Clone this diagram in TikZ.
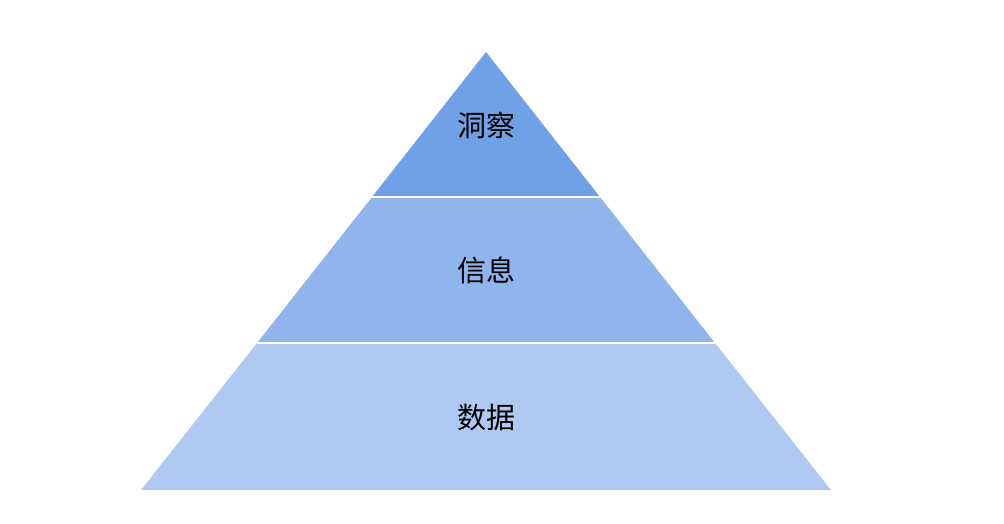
\documentclass[tikz,border=0pt]{standalone}
\usepackage{fontspec}
\newfontfamily\cjk{Noto Sans CJK SC}
\definecolor{c1}{HTML}{70A0E6}
\definecolor{c2}{HTML}{90B5EE}
\definecolor{c3}{HTML}{AFC9F2}
\tikzset{layer/.style={draw=white,line width=2pt,line join=miter},
 lbl/.style={font=\cjk\fontsize{29}{29}\selectfont,text=black}}
\begin{document}
\begin{tikzpicture}[x=1pt,y=-1pt]
\useasboundingbox (0,0) rectangle (1004,524);
\coordinate (apex) at (486,52);
\coordinate (l1) at (372,197); \coordinate (r1) at (600,197);
\coordinate (l2) at (257,343); \coordinate (r2) at (715,343);
\coordinate (l3) at (141,490); \coordinate (r3) at (831,490);
\fill[c3] (l2) -- (r2) -- (r3) -- (l3) -- cycle;
\fill[c2] (l1) -- (r1) -- (r2) -- (l2) -- cycle;
\fill[c1] (apex) -- (r1) -- (l1) -- cycle;
\draw[white,line width=2pt] (l1) -- (r1) (l2) -- (r2);
\node[lbl] (t1) at (486,125) {洞察};
\node[lbl] (t2) at (486,270) {信息};
\node[lbl] (t3) at (486,418) {数据};
\end{tikzpicture}
\end{document}
